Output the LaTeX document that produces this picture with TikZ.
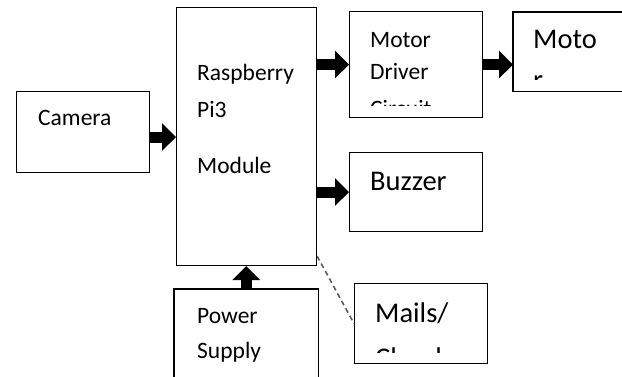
\documentclass[tikz,border=0pt]{standalone}
\usepackage{fontspec}
\setmainfont{Carlito}
\usetikzlibrary{arrows.meta}
\tikzset{
  box/.style={draw=black, line width=1.1pt, fill=white, inner sep=0pt, anchor=north west},
  openbox/.style={draw=none, inner sep=0pt, anchor=north west},
  boxline/.style={draw=black, line width=1.1pt},
  lbl/.style={anchor=base west, inner sep=0pt, font=\fontsize{23.5}{28}\selectfont},
  lblbig/.style={anchor=base west, inner sep=0pt, font=\fontsize{28.5}{34}\selectfont},
  blk/.style={line width=11pt, -{Triangle[length=14pt,width=27pt]}},
  dsh/.style={draw=black!65, line width=1.6pt, dash pattern=on 5pt off 3.5pt}
}
\begin{document}
\begin{tikzpicture}[x=1pt,y=-1pt]
\useasboundingbox (0,0) rectangle (622,376);
% boxes
\node[box, minimum width=133pt, minimum height=81pt] (cam) at (16,91) {};
\node[box, minimum width=140pt, minimum height=258pt] (rpi) at (176,7) {};
\node[box, minimum width=133pt, minimum height=106pt] (mdc) at (349,11) {};
\node[openbox, minimum width=112pt, minimum height=79pt] (mot) at (513,12) {};
\draw[boxline] (mot.north east) -- (mot.north west) -- (mot.south west) -- (mot.south east);
\node[box, minimum width=133pt, minimum height=79pt] (buz) at (349,152) {};
\node[openbox, minimum width=144pt, minimum height=90pt] (pow) at (174,289) {};
\draw[boxline] (pow.south west) -- (pow.north west) -- (pow.north east) -- (pow.south east);
\node[box, minimum width=133pt, minimum height=80pt] (mail) at (354,283) {};
% texts
\node[lbl] (tcam) at (38,125) {Camera};
\node[lbl] (trpi1) at (197,80) {Raspberry};
\node[lbl] (trpi2) at (197,117) {Pi3};
\node[lbl] (trpi3) at (197,173) {Module};
\node[lbl] (tmdc1) at (370,47) {Motor};
\node[lbl] (tmdc2) at (370,79) {Driver};
\begin{scope}
  \clip (349,11) rectangle (482,105);
  \node[lbl] (tmdc3) at (370,116) {Circuit};
\end{scope}
\node[lblbig] (tmot1) at (533,48) {Moto};
\begin{scope}
  \clip (513,12) rectangle (622,79);
  \node[lblbig] (tmot2) at (533,89) {r};
\end{scope}
\node[lblbig] (tbuz) at (370,190) {Buzzer};
\node[lbl] (tpow1) at (197,323) {Power};
\node[lbl] (tpow2) at (197,358) {Supply};
\node[lblbig] (tmail1) at (375,322) {Mails/};
\begin{scope}
  \clip (354,283) rectangle (487,352);
  \node[lblbig] (tmail2) at (375,367) {Cloud};
\end{scope}
% connectors
\draw[blk] ([yshift=-5pt]cam.east) -- ([yshift=-5pt]cam.east -| rpi.west);
\draw[blk] (mdc.west -| rpi.east) -- (mdc.west);
\draw[blk] (mdc.east) -- (mdc.east -| mot.west);
\draw[blk] (buz.west -| rpi.east) -- (buz.west);
\draw[blk] (pow.north) -- (pow.north |- rpi.south);
\coordinate (dstart) at ([yshift=10pt]rpi.south east);
\draw[dsh] (dstart) -- (mail.west);
\end{tikzpicture}
\end{document}
